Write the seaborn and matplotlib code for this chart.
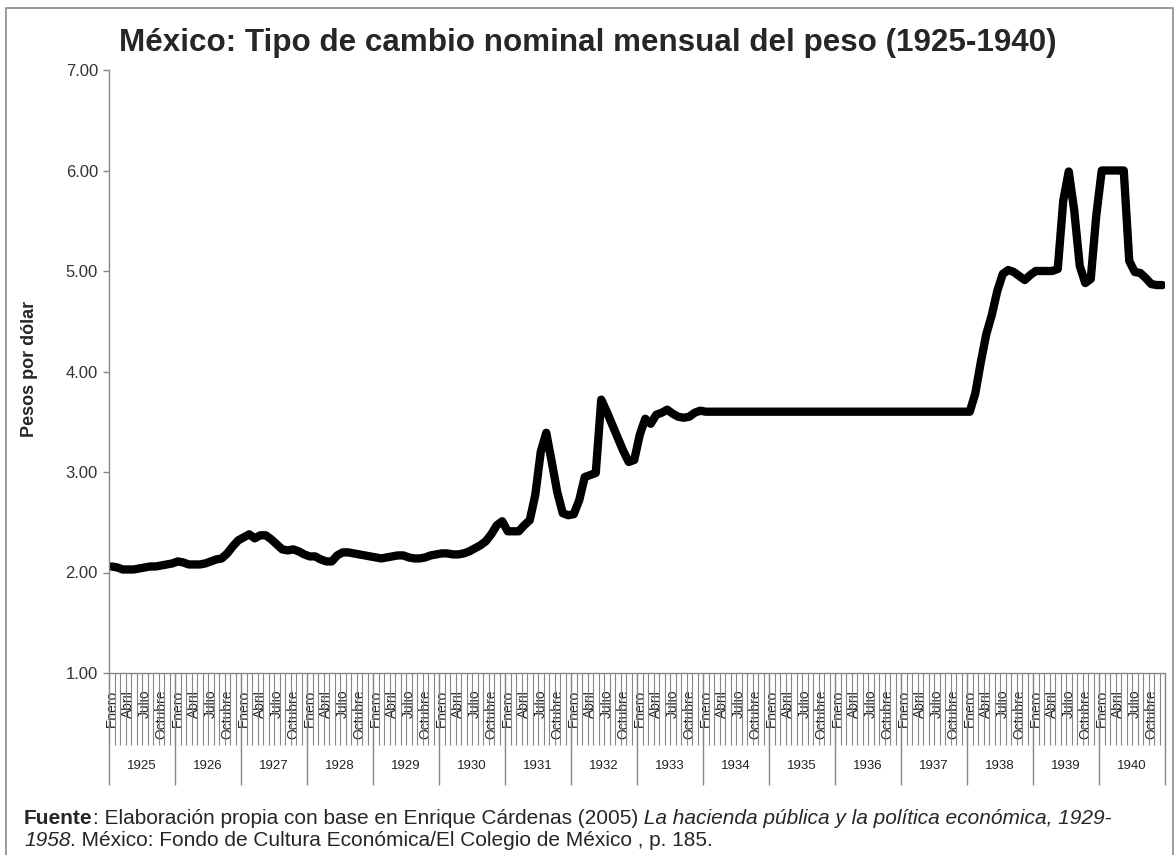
import numpy as np
import pandas as pd
import matplotlib
matplotlib.use('Agg')
import matplotlib.pyplot as plt
import seaborn as sns
from matplotlib.patches import Rectangle

# --- datos: tipo de cambio mensual (pesos por dólar) ---
anios = list(range(1925, 1941))
meses = ['Enero', 'Febrero', 'Marzo', 'Abril', 'Mayo', 'Junio', 'Julio',
         'Agosto', 'Septiembre', 'Octubre', 'Noviembre', 'Diciembre']
meses_visibles = ['Enero', 'Abril', 'Julio', 'Octubre']

tc_1925 = [2.06, 2.05, 2.03, 2.03, 2.03, 2.04, 2.05, 2.06, 2.06, 2.07, 2.08, 2.09]
tc_1926 = [2.11, 2.10, 2.08, 2.08, 2.08, 2.09, 2.11, 2.13, 2.14, 2.19, 2.26, 2.32]
tc_1927 = [2.35, 2.38, 2.34, 2.37, 2.37, 2.33, 2.28, 2.23, 2.22, 2.23, 2.21, 2.18]
tc_1928 = [2.16, 2.16, 2.13, 2.11, 2.11, 2.17, 2.20, 2.20, 2.19, 2.18, 2.17, 2.16]
tc_1929 = [2.15, 2.14, 2.15, 2.16, 2.17, 2.17, 2.15, 2.14, 2.14, 2.15, 2.17, 2.18]
tc_1930 = [2.19, 2.19, 2.18, 2.18, 2.19, 2.21, 2.24, 2.27, 2.31, 2.38, 2.47, 2.51]
tc_1931 = [2.41, 2.41, 2.41, 2.47, 2.52, 2.77, 3.20, 3.39, 3.10, 2.80, 2.59, 2.57]
tc_1932 = [2.58, 2.72, 2.95, 2.97, 2.99, 3.72, 3.60, 3.47, 3.34, 3.21, 3.10, 3.12]
tc_1933 = [3.37, 3.53, 3.48, 3.57, 3.59, 3.62, 3.58, 3.55, 3.54, 3.55, 3.59, 3.61]
tc_1934 = [3.60, 3.60, 3.60, 3.60, 3.60, 3.60, 3.60, 3.60, 3.60, 3.60, 3.60, 3.60]
tc_1935 = [3.60, 3.60, 3.60, 3.60, 3.60, 3.60, 3.60, 3.60, 3.60, 3.60, 3.60, 3.60]
tc_1936 = [3.60, 3.60, 3.60, 3.60, 3.60, 3.60, 3.60, 3.60, 3.60, 3.60, 3.60, 3.60]
tc_1937 = [3.60, 3.60, 3.60, 3.60, 3.60, 3.60, 3.60, 3.60, 3.60, 3.60, 3.60, 3.60]
tc_1938 = [3.60, 3.78, 4.09, 4.37, 4.56, 4.80, 4.97, 5.01, 4.99, 4.95, 4.91, 4.96]
tc_1939 = [5.00, 5.00, 5.00, 5.00, 5.02, 5.70, 5.99, 5.60, 5.05, 4.88, 4.92, 5.55]
tc_1940 = [6.00, 6.00, 6.00, 6.00, 6.00, 5.10, 4.99, 4.98, 4.93, 4.87, 4.86, 4.86]

serie = [tc_1925, tc_1926, tc_1927, tc_1928, tc_1929, tc_1930, tc_1931, tc_1932,
         tc_1933, tc_1934, tc_1935, tc_1936, tc_1937, tc_1938, tc_1939, tc_1940]

df = pd.DataFrame({
    'anio': np.repeat(anios, 12),
    'mes': meses * len(anios),
    'tc': np.concatenate(serie),
})
df['idx'] = np.arange(len(df))

# --- estilo ---
sns.set_style('white')
plt.rcParams['font.family'] = ['Liberation Sans', 'DejaVu Sans']

W, H = 1174, 855
fig = plt.figure(figsize=(W / 100, H / 100), dpi=100)
fig.patch.set_facecolor('white')
ax = fig.add_axes([109 / W, 1 - 673 / H, (1165 - 109) / W, (673 - 70) / H])

gris = '#868686'

sns.lineplot(data=df, x='idx', y='tc', color='black', linewidth=6,
             solid_joinstyle='round', solid_capstyle='round', ax=ax)

ax.set_xlim(-0.5, len(df) - 0.5)
ax.set_ylim(1, 7)
ax.set_xlabel('')
ax.set_ylabel('')

for s in ['top', 'right']:
    ax.spines[s].set_visible(False)
for s in ['left', 'bottom']:
    ax.spines[s].set_color(gris)
    ax.spines[s].set_linewidth(1)

# eje y
yt = np.arange(1, 8)
ax.set_yticks(yt)
ax.set_yticklabels([f'{v:.2f}' for v in yt])
ax.tick_params(axis='y', direction='out', length=4, width=1, color=gris,
               pad=4, labelsize=12, labelcolor='#333333', left=True)

# eje x: etiquetas de meses y rayas entre meses
lab = df[df['mes'].isin(meses_visibles)]
ax.set_xticks(lab['idx'])
ax.set_xticklabels(lab['mes'], rotation=90)
ax.set_xticks(np.arange(-0.5, len(df)), minor=True)
ax.tick_params(axis='x', which='major', length=0, pad=12, labelsize=10,
               labelcolor='#222222', bottom=True)
ax.tick_params(axis='x', which='minor', length=52, width=0.8, color=gris,
               direction='out', bottom=True)

# divisiones y etiquetas de años
trans = ax.get_xaxis_transform()
bordes = np.arange(-0.5, len(df), 12)
ax.vlines(bordes, -0.186, 0, transform=trans, color=gris, linewidth=1,
          clip_on=False)
for a in anios:
    centro = df.loc[df['anio'] == a, 'idx'].mean()
    ax.text(centro, -0.154, str(a), transform=trans, ha='center', va='center',
            fontsize=9.5, color='#222222')

# titulo y etiqueta del eje y
fig.text(588 / W, 1 - 43 / H, 'México: Tipo de cambio nominal mensual del peso (1925-1940)',
         ha='center', va='center', fontsize=22.6, fontweight='bold')
fig.text(30 / W, 1 - 369 / H, 'Pesos por dólar', rotation=90, ha='center',
         va='center', fontsize=13, fontweight='bold')

# marco
fig.add_artist(Rectangle((5.5 / W, -0.05), (1172.5 - 5.5) / W, 1.05 - 8 / H,
                         transform=fig.transFigure, fill=False,
                         edgecolor='#8a8a8a', linewidth=1.2))

# fuente (texto con estilos mezclados)
fig.canvas.draw()
r = fig.canvas.get_renderer()


def renglon(partes, x_px, base_px):
    x = x_px
    for txt, peso, estilo in partes:
        t = fig.text(x / W, 1 - base_px / H, txt, fontsize=15, fontweight=peso,
                     fontstyle=estilo, ha='left', va='baseline')
        x += t.get_window_extent(r).width


renglon([('Fuente', 'bold', 'normal'),
         (': Elaboración propia con base en Enrique Cárdenas (2005)', 'normal', 'normal'),
         (' La hacienda pública y la política económica, 1929-', 'normal', 'italic')],
        24, 824)
renglon([('1958', 'normal', 'italic'),
         ('. México: Fondo de Cultura Económica/El Colegio de México , p. 185.', 'normal', 'normal')],
        24, 846)

fig.savefig('out.png', dpi=100)
